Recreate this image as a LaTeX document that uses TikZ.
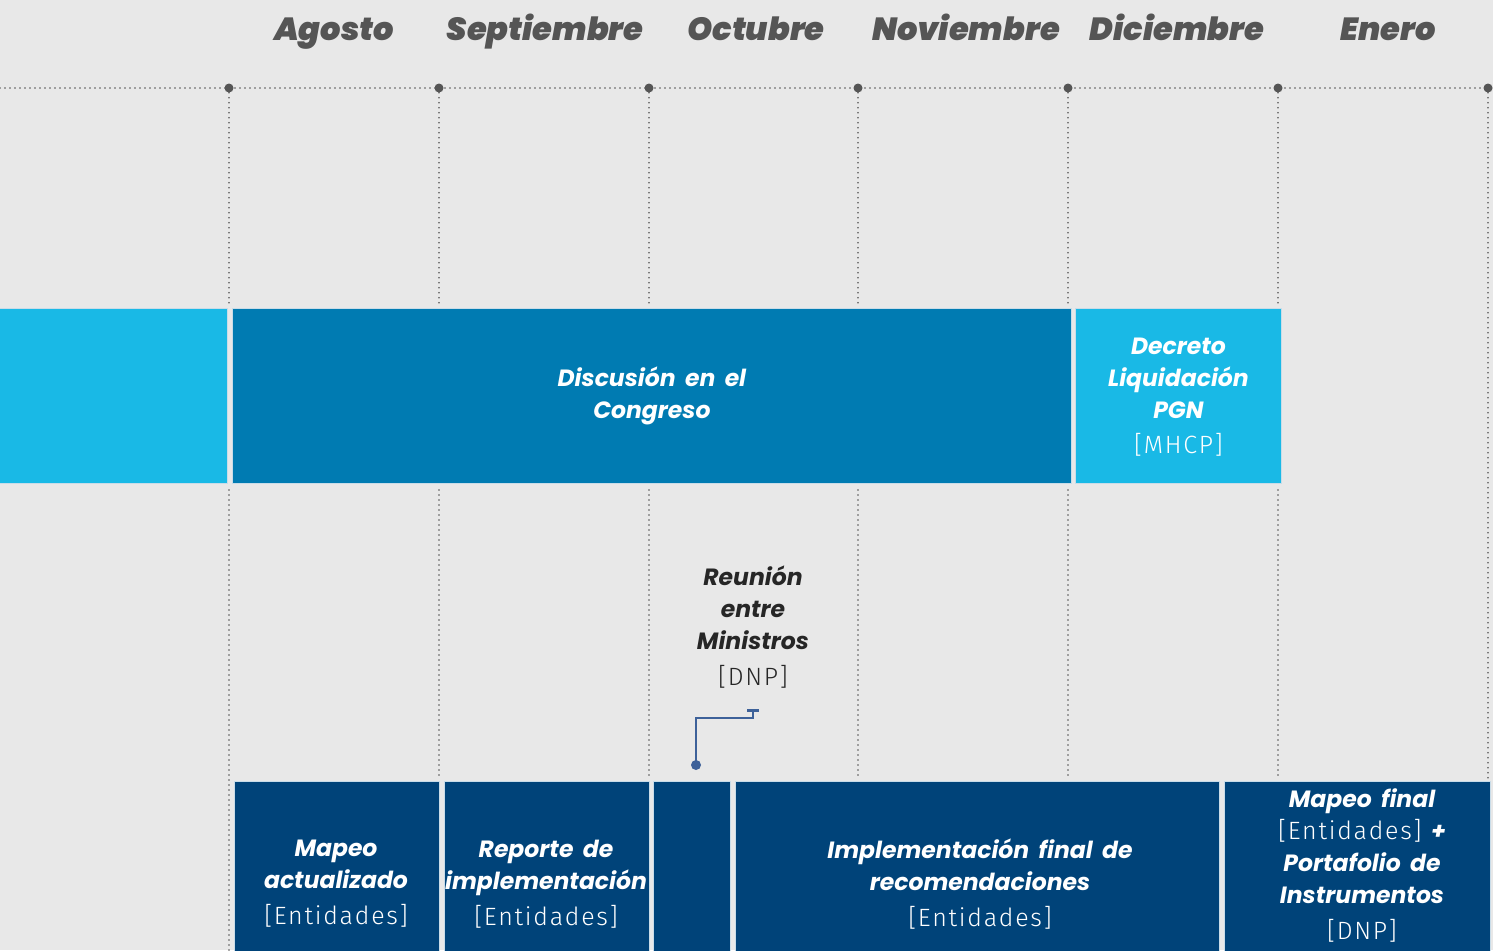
\documentclass[tikz,border=0pt]{standalone}
\usepackage{fontspec}
\setmainfont{Poppins}
\newfontfamily\headfont{Poppins Black}
\newfontfamily\lightfont{Fira Sans Light}[LetterSpace=7]
\usetikzlibrary{arrows.meta,calc}
\definecolor{bg}{HTML}{E8E8E8}
\definecolor{lightblue}{HTML}{19B9E6}
\definecolor{midblue}{HTML}{007BB2}
\definecolor{navy}{HTML}{004379}
\definecolor{dotgray}{HTML}{555555}
\definecolor{conn}{HTML}{3D6199}
\definecolor{edge}{HTML}{C9DCE8}
\newcommand{\lblfont}{\bfseries\itshape\fontsize{23.5}{32}\selectfont\spaceskip=0.4em plus 0.1em\relax}
\tikzset{
  x=1pt,y=-1pt,
  month/.style={font=\headfont\itshape\fontsize{32}{36}\selectfont, text=dotgray, inner sep=0pt, anchor=base},
  grid/.style={draw=dotgray, line width=1.8pt, dash pattern=on 0pt off 5pt, line cap=round},
  gdot/.style={circle, fill=dotgray, minimum size=9pt, inner sep=0pt},
  bar/.style={draw=edge, line width=0.8pt, anchor=north west, inner sep=0pt},
  lbl/.style={align=center, text=white, font=\lblfont, inner sep=0pt},
  dlbl/.style={lbl, text=black!85},
}
\newcommand{\brk}[1]{{\lightfont\mdseries\upshape\fontsize{25}{32}\selectfont #1}}
\begin{document}
\begin{tikzpicture}
\useasboundingbox (0,0) rectangle (1493,950);
\fill[bg] (0,0) rectangle (1493,950);

% month headers
\node[month] (m1) at (334,41) {Agosto};
\node[month] (m2) at (545,41) {Septiembre};
\node[month] (m3) at (756,41) {Octubre};
\node[month] (m4) at (966,41) {Noviembre};
\node[month] (m5) at (1177,41) {Diciembre};
\node[month] (m6) at (1388,41) {Enero};

% horizontal dotted line
\coordinate (h0) at (0,88);
\coordinate (h7) at (1488,88);
\draw[grid] (h0) -- (h7);

% vertical dotted lines
\foreach \i/\x in {1/229,2/439,3/649,4/858,5/1068,6/1278,7/1488}{
  \node[gdot] (d\i) at (\x,88) {};
}
\foreach \i/\x in {1/229,2/439,3/649,4/858,5/1068,6/1278}{
  \draw[grid] (d\i) -- (\x,305);
}
\draw[grid] (229,490) -- (229,950);
\foreach \x in {439,649,858,1068,1278}{
  \draw[grid] (\x,490) -- (\x,778);
}
\draw[grid] (d7) -- (1488,778);

% middle band
\node[bar, fill=lightblue, minimum width=228pt, minimum height=175pt] (b0) at (-1,308) {};
\node[bar, fill=midblue, minimum width=839pt, minimum height=175pt] (b1) at (232,308) {};
\node[bar, fill=lightblue, minimum width=206pt, minimum height=175pt] (b2) at (1075,308) {};
\node[lbl] (t1) at (b1.center) {Discusión en el\\Congreso};
\node[lbl] (t2) at ($(b2.center)+(0,1)$) {Decreto\\Liquidación\\PGN\\[3pt]\brk{[MHCP]}};

% meeting
\node[dlbl] (t3) at (753,627) {Reunión\\entre\\Ministros\\[4pt]\brk{[DNP]}};
\node[circle, fill=conn, minimum size=10pt, inner sep=0pt] (c0) at (696,765) {};
\coordinate (c1) at (753,718);
\coordinate (c2) at (753,709);
\draw[conn, line width=2.5pt, -{Bar[width=12pt,line width=2.5pt]}] (c0.center) |- (c1) -- (c2);

% bottom boxes
\node[bar, fill=navy, minimum width=205pt, minimum height=200pt] (k1) at (234,781) {};
\node[bar, fill=navy, minimum width=205pt, minimum height=200pt] (k2) at (444,781) {};
\node[bar, fill=navy, minimum width=77pt, minimum height=200pt] (k3) at (653,781) {};
\node[bar, fill=navy, minimum width=484pt, minimum height=200pt] (k4) at (735,781) {};
\node[bar, fill=navy, minimum width=266pt, minimum height=200pt] (k5) at (1224,781) {};

\node[lbl] (u1) at (336,884) {Mapeo\\actualizado\\[4pt]\brk{[Entidades]}};
\node[lbl] (u2) at (546,884) {Reporte de\\implementación\\[4pt]\brk{[Entidades]}};
\node[lbl] (u4) at (980,884) {Implementación final de\\recomendaciones\\[4pt]\brk{[Entidades]}};
\node[lbl, anchor=north] (u5) at (1362,788) {Mapeo final\\\brk{[Entidades]} +\\Portafolio de\\Instrumentos\\[4pt]\brk{[DNP]}};
\end{tikzpicture}
\end{document}
